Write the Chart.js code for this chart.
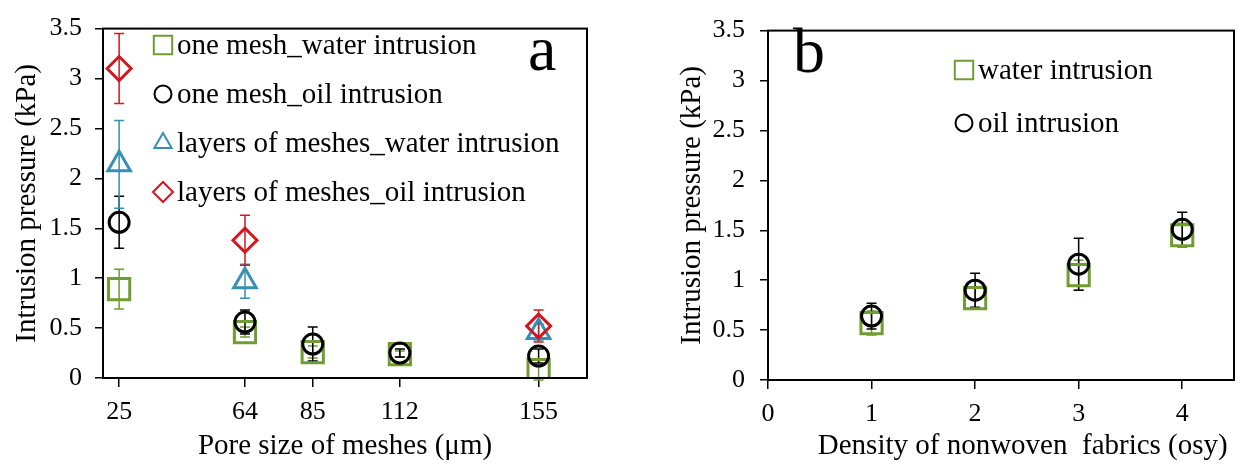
<!DOCTYPE html>
<html>
<head>
<meta charset="utf-8">
<script src="https://cdn.jsdelivr.net/npm/chart.js@4.4.1/dist/chart.umd.min.js"></script>
<style>
  body { margin: 0; background: #fff; }
  #wrap { position: relative; width: 1252px; height: 466px; }
  .panel { position: absolute; top: 0; }
</style>
</head>
<body>
<div id="wrap">
  <div class="panel" style="left:0"><canvas id="chartA" width="626" height="466"></canvas></div>
  <div class="panel" style="left:626px"><canvas id="chartB" width="626" height="466"></canvas></div>
</div>
<script>
// ---- panel a data ----
const poreSizes = [25, 64, 85, 112, 155];
const meshWater = [0.89, 0.46, 0.26, 0.24, 0.08];
const meshWaterErr = [0.20, 0.05, 0.06, 0.03, 0.10];
const meshOil = [1.56, 0.56, 0.34, 0.25, 0.22];
const meshOilErr = [0.26, 0.12, 0.17, 0.04, 0.07];
const layersWater = [2.14, 0.97, null, null, 0.46];
const layersWaterErr = [0.44, 0.17, 0, 0, 0.08];
const layersOil = [3.10, 1.38, null, null, 0.52];
const layersOilErr = [0.35, 0.25, 0, 0, 0.16];
const seriesNamesA = ['one mesh_water intrusion', 'one mesh_oil intrusion',
  'layers of meshes_water intrusion', 'layers of meshes_oil intrusion'];

// ---- panel b data ----
const densities = [1, 2, 3, 4];
const fabricWater = [0.57, 0.82, 1.05, 1.45];
const fabricWaterErr = [0.12, 0.10, 0.15, 0.12];
const fabricOil = [0.64, 0.90, 1.16, 1.51];
const fabricOilErr = [0.13, 0.17, 0.26, 0.17];
const seriesNamesB = ['water intrusion', 'oil intrusion'];

// ticks
const yTicks = [0, 0.5, 1, 1.5, 2, 2.5, 3, 3.5];
const xTicksA = poreSizes;
const xTicksB = [0, 1, 2, 3, 4];

const GREEN = '#6f9d2f';
const BLACK = '#000000';
const BLUE = '#3590b3';
const RED = '#d4161e';

Chart.defaults.font.family = "'Liberation Serif', 'Times New Roman', serif";
Chart.defaults.color = '#000';

function points(xs, ys, errs) {
  const out = [];
  xs.forEach((x, i) => {
    if (ys[i] !== null) out.push({ x: x, y: ys[i], err: errs[i] });
  });
  return out;
}

function series(label, xs, ys, errs, style, color, radius, order) {
  return {
    label: label,
    data: points(xs, ys, errs),
    pointStyle: style,
    pointRadius: radius,
    pointHoverRadius: radius,
    pointBorderWidth: 3,
    pointBorderColor: color,
    pointBackgroundColor: 'rgba(0,0,0,0)',
    borderColor: color,
    showLine: false,
    order: order
  };
}

// error bars, frame, legend and panel letter
const extras = {
  id: 'extras',
  beforeDatasetsDraw(chart) {
    const ctx = chart.ctx;
    const xs = chart.scales.x, ys = chart.scales.y;
    ctx.save();
    chart.data.datasets.forEach(ds => {
      ctx.strokeStyle = ds.borderColor;
      ctx.lineWidth = 1.5;
      ds.data.forEach(p => {
        if (!p.err) return;
        const px = xs.getPixelForValue(p.x);
        const top = ys.getPixelForValue(p.y + p.err);
        const bot = ys.getPixelForValue(p.y - p.err);
        ctx.beginPath();
        ctx.moveTo(px, top); ctx.lineTo(px, bot);
        ctx.moveTo(px - 5, top); ctx.lineTo(px + 5, top);
        ctx.moveTo(px - 5, bot); ctx.lineTo(px + 5, bot);
        ctx.stroke();
      });
    });
    ctx.restore();
  },
  afterDraw(chart, args, opts) {
    const ctx = chart.ctx;
    const a = chart.chartArea;
    ctx.save();
    ctx.strokeStyle = '#000';
    ctx.lineWidth = 2;
    ctx.strokeRect(a.left, a.top, a.right - a.left, a.bottom - a.top);

    // legend
    ctx.font = "29px 'Liberation Serif', serif";
    ctx.textBaseline = 'middle';
    ctx.textAlign = 'left';
    opts.names.forEach((name, i) => {
      const ds = chart.data.datasets[i];
      const y = opts.legendY + i * opts.legendDy;
      ctx.strokeStyle = ds.borderColor;
      ctx.fillStyle = 'rgba(0,0,0,0)';
      ctx.lineWidth = 2;
      Chart.helpers.drawPoint(ctx, {
        pointStyle: ds.pointStyle,
        radius: ds.pointStyle === 'rect' ? 13 : (ds.pointStyle === 'circle' ? 8.5 : 10),
        borderWidth: 2,
        rotation: 0
      }, opts.legendX, y);
      ctx.fillStyle = '#000';
      ctx.fillText(name, opts.legendX + 14, y + 1);
    });

    // panel letter
    ctx.font = "64px 'Liberation Serif', serif";
    ctx.textBaseline = 'alphabetic';
    ctx.fillStyle = '#000';
    ctx.fillText(opts.letter, opts.letterX, opts.letterY);
    ctx.restore();
  }
};

function axes(xMin, xMax, xTicks, yWidth, xHeight, yTitlePad, yTickPad, xTitle) {
  return {
    x: {
      type: 'linear',
      min: xMin,
      max: xMax,
      afterBuildTicks: s => { s.ticks = xTicks.map(v => ({ value: v })); },
      afterFit: s => { s.height = xHeight; },
      ticks: { font: { size: 26 }, padding: 10, callback: v => String(v) },
      grid: { drawOnChartArea: false, color: '#000', lineWidth: 1.5, tickLength: 9 },
      border: { color: '#000', width: 2 },
      title: { display: true, text: xTitle, font: { size: 29 }, padding: { top: 0, bottom: 2 } }
    },
    y: {
      type: 'linear',
      min: 0,
      max: 3.5,
      afterBuildTicks: s => { s.ticks = yTicks.map(v => ({ value: v })); },
      afterFit: s => { s.width = yWidth; },
      ticks: { font: { size: 26 }, padding: yTickPad, callback: v => String(v) },
      grid: { drawOnChartArea: false, color: '#000', lineWidth: 1.5, tickLength: 8 },
      border: { color: '#000', width: 2 },
      title: { display: true, text: 'Intrusion pressure (kPa)', font: { size: 29 }, padding: { top: yTitlePad, bottom: 0 } }
    }
  };
}

new Chart(document.getElementById('chartA'), {
  type: 'scatter',
  data: {
    datasets: [
      series(seriesNamesA[0], poreSizes, meshWater, meshWaterErr, 'rect', GREEN, 15, 4),
      series(seriesNamesA[1], poreSizes, meshOil, meshOilErr, 'circle', BLACK, 10, 1),
      series(seriesNamesA[2], poreSizes, layersWater, layersWaterErr, 'triangle', BLUE, 13, 3),
      series(seriesNamesA[3], poreSizes, layersOil, layersOilErr, 'rectRot', RED, 12, 2)
    ]
  },
  options: {
    responsive: false,
    animation: false,
    layout: { padding: { left: 0, top: 19, right: 39, bottom: 0 } },
    scales: axes(20, 170, xTicksA, 103, 88, 10, 13, 'Pore size of meshes (\u03bcm)'),
    plugins: {
      legend: { display: false },
      tooltip: { enabled: false },
      extras: { names: seriesNamesA, legendX: 163, legendY: 45, legendDy: 49, letter: 'a', letterX: 528, letterY: 70 }
    }
  },
  plugins: [extras]
});

new Chart(document.getElementById('chartB'), {
  type: 'scatter',
  data: {
    datasets: [
      series(seriesNamesB[0], densities, fabricWater, fabricWaterErr, 'rect', GREEN, 15, 2),
      series(seriesNamesB[1], densities, fabricOil, fabricOilErr, 'circle', BLACK, 10, 1)
    ]
  },
  options: {
    responsive: false,
    animation: false,
    layout: { padding: { left: 0, top: 18, right: 2, bottom: 0 } },
    scales: axes(0, 4.5, xTicksB, 142, 86, 49, 15, '\u2002\u2002\u2002Density of nonwoven  fabrics (osy)'),
    plugins: {
      legend: { display: false },
      tooltip: { enabled: false },
      extras: { names: seriesNamesB, legendX: 338, legendY: 70, legendDy: 53, letter: 'b', letterX: 167, letterY: 72 }
    }
  },
  plugins: [extras]
});
</script>
</body>
</html>
